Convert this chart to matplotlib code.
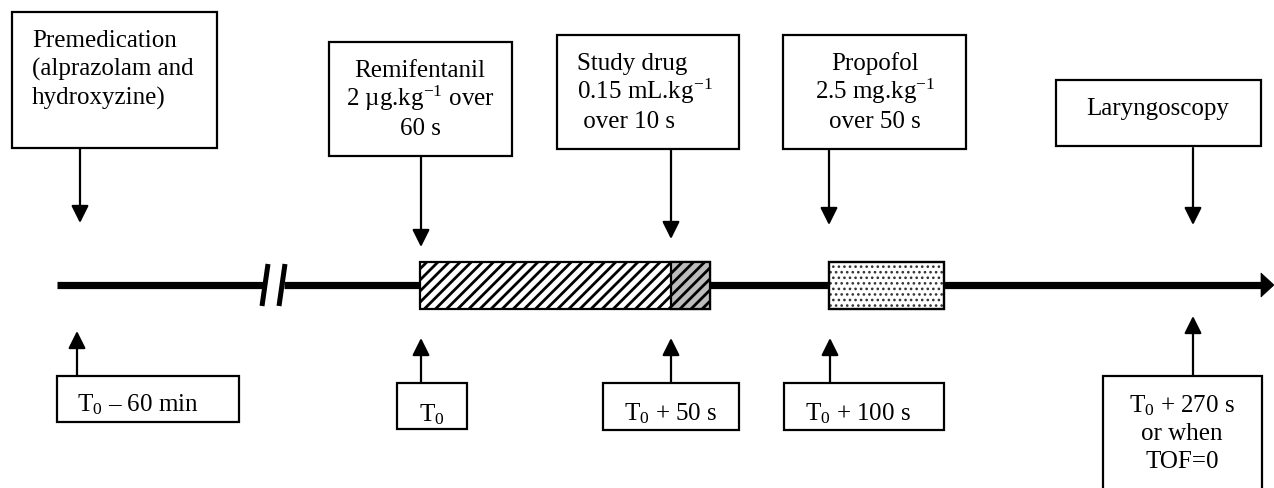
import matplotlib
matplotlib.use("Agg")
import matplotlib.pyplot as plt
from matplotlib.patches import Rectangle, Polygon

# ---------------- data (texts of the timeline) ----------------
top_labels = [
    ["Premedication", "(alprazolam and", "hydroxyzine)"],
    ["Remifentanil", "2 µg.kg$^{-1}$ over", "60 s"],
    ["Study drug", "0.15 mL.kg$^{-1}$", " over 10 s"],
    ["Propofol", "2.5 mg.kg$^{-1}$", "over 50 s"],
    ["Laryngoscopy"],
]
time_labels = [
    ["T$_0$ – 60 min"],
    ["T$_0$"],
    ["T$_0$ + 50 s"],
    ["T$_0$ + 100 s"],
    ["T$_0$ + 270 s", "or when", "TOF=0"],
]

# ---------------- layout (pixel coordinates) ----------------
W, H = 1274, 489
top_boxes = [(12, 13, 205, 136), (329, 43, 183, 114), (557, 36, 182, 114),
             (783, 36, 183, 114), (1056, 81, 205, 66)]
top_text_x = [32, 420, 577, 875, 1158]
top_text_ha = ["left", "center", "left", "center", "center"]
top_baselines = [[47, 76, 105], [77, 106, 135], [70, 99, 128], [70, 99, 128], [115]]
top_arrows = [(80, 149, 224), (421, 157, 248), (671, 150, 240),
              (829, 150, 226), (1193, 149, 226)]

bot_boxes = [(57, 377, 182, 46), (397, 384, 70, 46), (603, 384, 136, 47),
             (784, 384, 160, 47), (1103, 377, 159, 130)]
bot_text_x = [77, 432, 671, 858, 1182]
bot_text_ha = ["left", "center", "center", "center", "center"]
bot_baselines = [[411], [421], [420], [420], [412, 440, 468]]
bot_arrows = [(77, 377, 332), (421, 384, 339), (671, 384, 339),
              (830, 384, 339), (1193, 377, 317)]

line_y = 286
segments = [(57, 265), (284, 1263)]
breaks = [((262, 307), (268, 265)), ((279, 307), (285, 265))]
bar_y, bar_h = 263, 47
remi_bar = (420, 290)
study_bar = (671, 39)
prop_bar = (829, 115)

# ---------------- style ----------------
plt.rcParams["font.family"] = ["Liberation Serif", "DejaVu Serif"]
plt.rcParams["mathtext.fontset"] = "custom"
plt.rcParams["mathtext.rm"] = "Liberation Serif"
plt.rcParams["mathtext.it"] = "Liberation Serif:italic"
plt.rcParams["mathtext.default"] = "rm"
plt.rcParams["hatch.linewidth"] = 2.0

FS = 18
fig = plt.figure(figsize=(W / 100, H / 100), dpi=100)
ax = fig.add_axes([0, 0, 1, 1])
ax.set_xlim(0, W)
ax.set_ylim(H, 0)
ax.axis("off")


def box(x, y, w, h):
    ax.add_patch(Rectangle((x, y), w, h, facecolor="white", edgecolor="black",
                           lw=1.6, zorder=3))


def arrow(x, y0, y1):
    ax.annotate("", xy=(x, y1), xytext=(x, y0),
                arrowprops=dict(arrowstyle="-|>,head_length=0.42,head_width=0.21",
                                mutation_scale=25, lw=1.6, color="black",
                                shrinkA=0, shrinkB=0), zorder=4)


for (x, y, w, h), lines, tx, ha, bls, (ax_x, a0, a1) in zip(
        top_boxes, top_labels, top_text_x, top_text_ha, top_baselines, top_arrows):
    box(x, y, w, h)
    for s, b in zip(lines, bls):
        ax.text(tx, b, s, ha=ha, va="baseline", fontsize=FS, zorder=5)
    arrow(ax_x, a0, a1)

for (x, y, w, h), lines, tx, ha, bls, (ax_x, a0, a1) in zip(
        bot_boxes, time_labels, bot_text_x, bot_text_ha, bot_baselines, bot_arrows):
    box(x, y, w, h)
    for s, b in zip(lines, bls):
        ax.text(tx, b, s, ha=ha, va="baseline", fontsize=FS, zorder=5)
    arrow(ax_x, a0, a1)

# main time line
for x0, x1 in segments:
    ax.plot([x0, x1], [line_y, line_y], color="black", lw=5.2,
            solid_capstyle="butt", zorder=1)
ax.add_patch(Polygon([(1261, 274), (1274, line_y), (1261, 298)], closed=True,
                     facecolor="black", edgecolor="black", lw=0.5, zorder=2))
for (p0, p1) in breaks:
    ax.plot([p0[0], p1[0]], [p0[1], p1[1]], color="black", lw=3.6,
            solid_capstyle="butt", zorder=2)

# infusion bars
r1 = Rectangle((remi_bar[0], bar_y), remi_bar[1], bar_h, facecolor="white",
               edgecolor="black", hatch="///", lw=1.6, zorder=3)
r2 = Rectangle((study_bar[0], bar_y), study_bar[1], bar_h, facecolor="#bcbcbc",
               edgecolor="black", hatch="///", lw=1.6, zorder=4)
r3 = Rectangle((prop_bar[0], bar_y), prop_bar[1], bar_h, facecolor="white",
               edgecolor="#333333", hatch="...", lw=1.6, zorder=3)
ax.add_patch(r1)
ax.add_patch(r2)
if hasattr(r3, "set_hatch_linewidth"):
    r3.set_hatch_linewidth(1.1)
ax.add_patch(r3)
ax.add_patch(Rectangle((prop_bar[0], bar_y), prop_bar[1], bar_h, facecolor="none",
                       edgecolor="black", lw=1.6, zorder=4))

fig.savefig("out.png", dpi=100)
